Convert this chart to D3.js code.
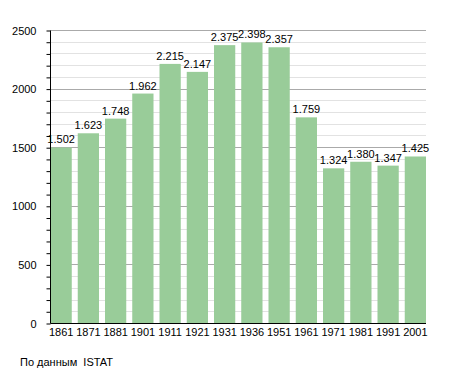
<!DOCTYPE html>
<html>
<head>
<meta charset="utf-8">
<script src="https://cdn.jsdelivr.net/npm/d3@7"></script>
<style>
  body { margin: 0; background: #fff; }
  svg { font-family: "Liberation Sans", Arial, sans-serif; }
</style>
</head>
<body>
<svg id="chart" width="455" height="373"></svg>
<script>
var years = ['1861', '1871', '1881', '1901', '1911', '1921', '1931', '1936', '1951', '1961', '1971', '1981', '1991', '2001'];
var population = [1502, 1623, 1748, 1962, 2215, 2147, 2375, 2398, 2357, 1759, 1324, 1380, 1347, 1425];
var yTicks = [0, 500, 1000, 1500, 2000, 2500];
var sourceNote = 'По данным  ISTAT';

var svg = d3.select('#chart');
var plotLeft = 50.5, plotRight = 426, plotTop = 30.5, plotBottom = 323.5;

var x = d3.scaleBand()
  .domain(years)
  .range([plotLeft, plotRight])
  .paddingInner(0.22)
  .paddingOuter(0);

var y = d3.scaleLinear()
  .domain([0, 2500])
  .range([plotBottom, plotTop]);

var snap = function(d) { return Math.round(y(d) - 0.5) + 0.5; };

// minor grid every 100
svg.append('g')
  .selectAll('line')
  .data(d3.range(100, 2500, 100).filter(function(v) { return v % 500 !== 0; }))
  .join('line')
  .attr('x1', plotLeft)
  .attr('x2', plotRight)
  .attr('y1', snap)
  .attr('y2', snap)
  .attr('stroke', '#e2e2e2');

// major grid
svg.append('g')
  .selectAll('line')
  .data(yTicks.slice(1))
  .join('line')
  .attr('x1', plotLeft)
  .attr('x2', plotRight)
  .attr('y1', snap)
  .attr('y2', snap)
  .attr('stroke', '#aaaaaa');

// bars
svg.append('g')
  .selectAll('rect')
  .data(population)
  .join('rect')
  .attr('x', function(d, i) { return x(years[i]); })
  .attr('y', function(d) { return y(d); })
  .attr('width', x.bandwidth())
  .attr('height', function(d) { return plotBottom - y(d); })
  .attr('fill', '#99cc99');

// value labels
svg.append('g')
  .selectAll('text')
  .data(population)
  .join('text')
  .attr('x', function(d, i) { return x(years[i]) + x.bandwidth() / 2; })
  .attr('y', function(d) { return y(d) - 4; })
  .attr('text-anchor', 'middle')
  .attr('font-size', 11)
  .attr('fill', '#000')
  .text(function(d) { return d3.format(',')(d).replace(',', '.'); });

// y axis
var yAxis = svg.append('g')
  .attr('transform', 'translate(' + plotLeft + ',0)')
  .call(d3.axisLeft(y).tickValues(d3.range(0, 2501, 100)).tickSize(4).tickFormat(function(d) {
    return d % 500 === 0 ? d : '';
  }));
yAxis.select('.domain').attr('d', 'M0,' + plotTop + 'V' + plotBottom).attr('stroke', '#000');
yAxis.selectAll('.tick line').attr('stroke', '#000');
yAxis.selectAll('.tick text')
  .attr('x', -14)
  .attr('font-size', 11)
  .attr('font-family', '"Liberation Sans", Arial, sans-serif')
  .attr('fill', '#000');

// x axis
var xAxis = svg.append('g')
  .attr('transform', 'translate(0,' + plotBottom + ')')
  .call(d3.axisBottom(x).tickSize(0).tickPadding(5));
xAxis.select('.domain').attr('d', 'M' + plotLeft + ',0H' + plotRight).attr('stroke', '#000');
xAxis.selectAll('.tick text')
  .attr('font-size', 11)
  .attr('font-family', '"Liberation Sans", Arial, sans-serif')
  .attr('fill', '#000');

svg.append('text')
  .attr('x', 20)
  .attr('y', 366)
  .attr('font-size', 11)
  .attr('fill', '#000')
  .attr('xml:space', 'preserve')
  .style('white-space', 'pre')
  .text(sourceNote);
</script>
</body>
</html>
